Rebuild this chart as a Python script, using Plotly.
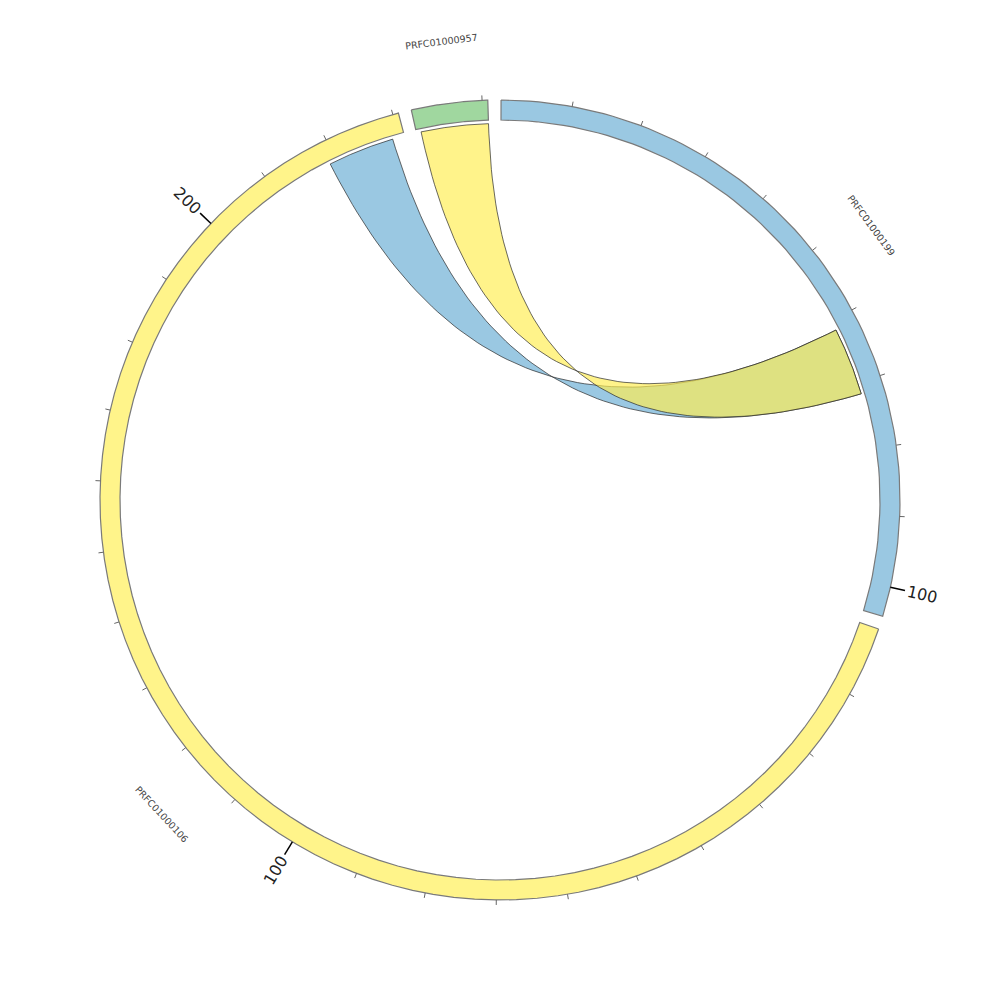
import numpy as np
import plotly.graph_objects as go

# ---------------- data ----------------
seg_names = ["PRFC01000199", "PRFC01000106", "PRFC01000957"]
seg_lengths = [104.2, 230.8, 10.8]
seg_colors = ["#9AC8E2", "#FFF48A", "#A0D79F"]

link_src_seg = ["PRFC01000106", "PRFC01000957"]
link_src_start = [219.0, 0.7]
link_src_end = [229.0, 10.8]
link_dst_seg = ["PRFC01000199", "PRFC01000199"]
link_dst_start = [61.5, 61.5]
link_dst_end = [71.7, 71.7]
link_colors = ["rgba(154,200,226,1)", "rgba(255,237,80,0.67)"]

minor_tick_step = 10
major_tick_step = 100

# ---------------- geometry ----------------
R_OUT, R_IN, R_LINK = 400, 380, 376.5
START_ANGLE = 0.15
GAP = 1.9
scale = (360 - GAP * len(seg_names)) / sum(seg_lengths)

seg_start = {}
a = START_ANGLE
for n, L in zip(seg_names, seg_lengths):
    seg_start[n] = a
    a += L * scale + GAP


def ang(seg, pos):
    return seg_start[seg] + pos * scale


def xy(theta, r):
    t = np.radians(theta)
    return r * np.sin(t), r * np.cos(t)


def arc(t0, t1, r, n=80):
    ts = np.linspace(t0, t1, n)
    x, y = xy(ts, r)
    return list(x), list(y)


def bezier(p0, p2, n=80):
    t = np.linspace(0, 1, n)
    x = (1 - t) ** 2 * p0[0] + t ** 2 * p2[0]
    y = (1 - t) ** 2 * p0[1] + t ** 2 * p2[1]
    return list(x), list(y)


fig = go.Figure()

# links
for s, s0, s1, d, d0, d1, c in zip(link_src_seg, link_src_start, link_src_end,
                                   link_dst_seg, link_dst_start, link_dst_end, link_colors):
    a0, a1 = ang(s, s0), ang(s, s1)
    b0, b1 = ang(d, d0), ang(d, d1)
    X, Y = [], []
    ax, ay = arc(a0, a1, R_LINK)
    X += ax; Y += ay
    bx, by = bezier(xy(a1, R_LINK), xy(b1, R_LINK))
    X += bx; Y += by
    cx, cy = arc(b1, b0, R_LINK)
    X += cx; Y += cy
    dx, dy = bezier(xy(b0, R_LINK), xy(a0, R_LINK))
    X += dx; Y += dy
    fig.add_trace(go.Scatter(x=X, y=Y, mode="lines", fill="toself", fillcolor=c,
                             line=dict(color="#2a2a2a", width=0.7), hoverinfo="skip"))

# segments
for n, L, c in zip(seg_names, seg_lengths, seg_colors):
    t0, t1 = ang(n, 0), ang(n, L)
    ox, oy = arc(t0, t1, R_OUT)
    ix, iy = arc(t1, t0, R_IN)
    X = ox + ix + [ox[0]]
    Y = oy + iy + [oy[0]]
    fig.add_trace(go.Scatter(x=X, y=Y, mode="lines", fill="toself", fillcolor=c,
                             line=dict(color="#7a7a7a", width=1.2), hoverinfo="skip"))

# ticks
mx, my, Mx, My = [], [], [], []
annotations = []
for n, L in zip(seg_names, seg_lengths):
    p = minor_tick_step
    while p <= L:
        th = ang(n, p)
        if p % major_tick_step == 0:
            x0, y0 = xy(th, R_OUT)
            x1, y1 = xy(th, R_OUT + 15)
            Mx += [x0, x1, None]; My += [y0, y1, None]
            lx, ly = xy(th, 433)
            ta = th - 90
            while ta > 90:
                ta -= 180
            while ta <= -90:
                ta += 180
            annotations.append(dict(x=lx, y=ly, xref="x", yref="y", text=str(p),
                                    showarrow=False, textangle=ta,
                                    font=dict(family="DejaVu Sans", size=16, color="#222222"),
                                    xanchor="center", yanchor="middle"))
        else:
            x0, y0 = xy(th, R_OUT)
            x1, y1 = xy(th, R_OUT + 5)
            mx += [x0, x1, None]; my += [y0, y1, None]
        p += minor_tick_step

fig.add_trace(go.Scatter(x=mx, y=my, mode="lines", line=dict(color="#666666", width=1),
                         hoverinfo="skip"))
fig.add_trace(go.Scatter(x=Mx, y=My, mode="lines", line=dict(color="#000000", width=1.5),
                         hoverinfo="skip"))

# segment names
for n, L in zip(seg_names, seg_lengths):
    th = ang(n, L / 2)
    lx, ly = xy(th, 462)
    ta = th
    while ta > 90:
        ta -= 180
    while ta <= -90:
        ta += 180
    annotations.append(dict(x=lx, y=ly, xref="x", yref="y", text=n, showarrow=False,
                            textangle=ta,
                            font=dict(family="DejaVu Sans", size=9.5, color="#444444"),
                            xanchor="center", yanchor="middle"))

# page body has an 8px margin; shift the ranges so the circle centre lands at (500, 500)
fig.update_layout(
    width=1000, height=1000,
    margin=dict(l=0, r=0, t=0, b=0),
    paper_bgcolor="white", plot_bgcolor="white",
    showlegend=False,
    xaxis=dict(range=[-492, 508], visible=False, fixedrange=True),
    yaxis=dict(range=[-508, 492], visible=False, scaleanchor="x", scaleratio=1, fixedrange=True),
    annotations=annotations,
)

fig.write_html("out.html")
